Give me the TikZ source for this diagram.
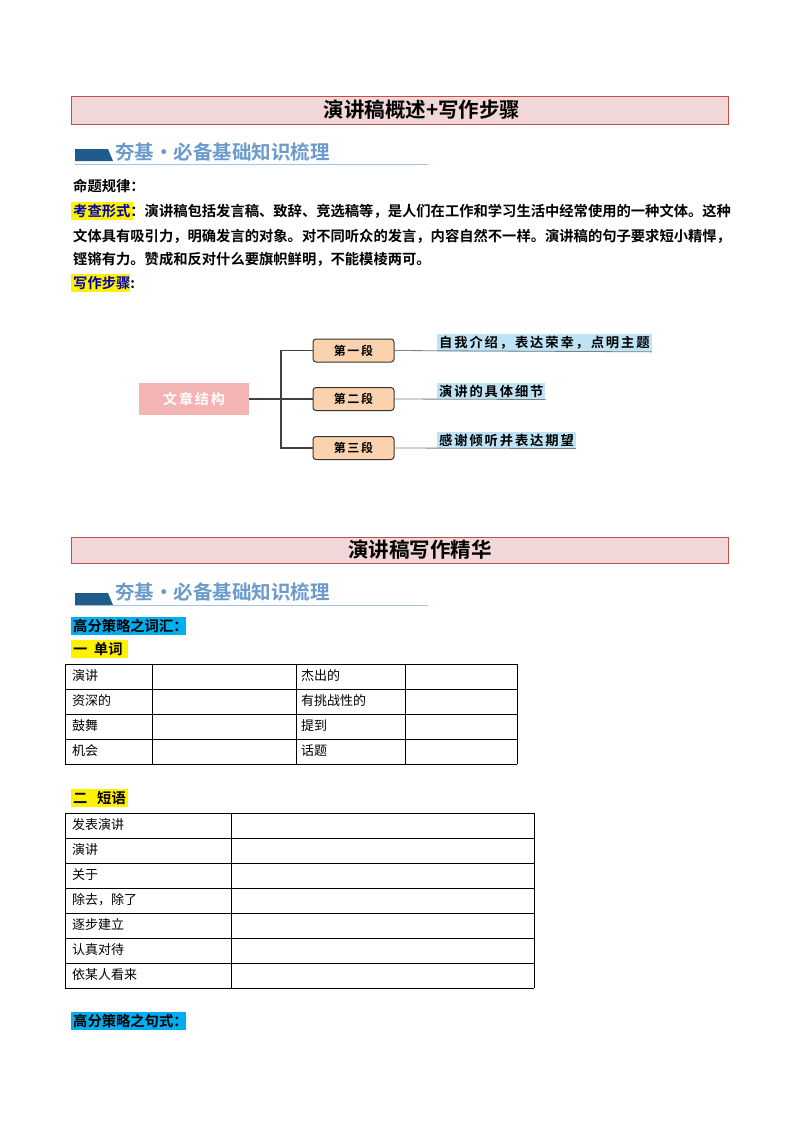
\documentclass[tikz,border=0pt]{standalone}
\usepackage{fontspec}
\setmainfont{Noto Sans CJK SC}
\newfontfamily\cjkb{Noto Sans CJK SC Bold}
\newfontfamily\cjksp[LetterSpace=14]{Noto Sans CJK SC Bold}
\definecolor{banfill}{HTML}{F2D7D9}
\definecolor{banline}{HTML}{C0504D}
\definecolor{subblue}{HTML}{1F5C8B}
\definecolor{subtxt}{HTML}{6B9ACB}
\definecolor{pinkb}{HTML}{F4B4B4}
\definecolor{peach}{HTML}{FAD3AE}
\definecolor{lblue}{HTML}{BDE3F5}
\begin{document}
\begin{tikzpicture}[x=1pt,y=-1pt,
  banner/.style={draw=banline,fill=banfill,line width=1pt},
  btitle/.style={font=\cjkb\fontsize{20.5}{20.5}\selectfont},
  body/.style={anchor=west,inner sep=0pt,font=\cjkb\fontsize{14.3}{14.3}\selectfont},
  seg/.style={draw=black!80,fill=peach,rounded corners=3pt,line width=1pt,minimum width=81pt,minimum height=23pt,font=\cjksp\fontsize{12}{12}\selectfont},
  lab/.style={fill=lblue,anchor=west,inner sep=2pt,font=\cjksp\fontsize{13.3}{13.3}\selectfont},
  cell/.style={anchor=west,inner sep=0pt,font=\fontsize{13}{13}\selectfont},
  tl/.style={draw=black,line width=0.6pt}]
\useasboundingbox (0,0) rectangle (800,1132);
\fill[white] (0,0) rectangle (800,1132);
% banner 1
\draw[banner] (71,96) rectangle (728,124);
\node[btitle] (t1) at (422,110) {演讲稿概述+写作步骤};
% sub 1
\fill[subblue] (75,149) -- (108,149) -- (113,161) -- (75,161) -- cycle;
\node[anchor=west,text=subtxt,font=\cjkb\fontsize{19.5}{19.5}\selectfont,inner sep=0pt] (s1) at (115,152) {夯基·必备基础知识梳理};
\draw[subtxt!60,line width=1pt] (75,164) -- (428,164);
\node[body] (m1) at (73,186) {命题规律：};
\fill[yellow] (71,202) rectangle (133,220);
\node[body] (m2) at (73,211) {{\color{blue!70!black}考查形式}：演讲稿包括发言稿、致辞、竞选稿等，是人们在工作和学习生活中经常使用的一种文体。这种};
\node[body] (m3) at (73,236) {文体具有吸引力，明确发言的对象。对不同听众的发言，内容自然不一样。演讲稿的句子要求短小精悍，};
\node[body] (m4) at (73,259) {铿锵有力。赞成和反对什么要旗帜鲜明，不能模棱两可。};
\fill[yellow] (71,274) rectangle (130,292);
\node[body] (m5) at (73,283) {{\color{blue!70!black}写作步骤}:};
% diagram
\node[fill=pinkb,text=white,minimum width=110pt,minimum height=32pt,font=\cjksp\fontsize{14}{14}\selectfont] (root) at (194,399) {文章结构};
\node[seg] (a) at (353.5,350.5) {第一段};
\node[seg] (b) at (353.5,399) {第二段};
\node[seg] (c) at (353.5,448) {第三段};
\coordinate (j) at (281,399);
\draw[black!75,line width=1.6pt] (root.east) -- (j);
\draw[black!75,line width=1.6pt] (a.west) -| (j) |- (c.west);
\draw[black!75,line width=1.6pt] (j) -- (b.west);
\node[lab] (la) at (437,343) {自我介绍，表达荣幸，点明主题};
\node[lab] (lb) at (437,391) {演讲的具体细节};
\node[lab] (lc) at (437,440) {感谢倾听并表达期望};
\draw[black!50,line width=0.8pt] (a.east) -- (la.south east);
\draw[black!50,line width=0.8pt] (b.east) -- (lb.south east);
\draw[black!50,line width=0.8pt] (c.east) -- (lc.south east);
% banner 2
\draw[banner] (71,537) rectangle (728,563);
\node[btitle] (t2) at (420,550) {演讲稿写作精华};
\fill[subblue] (75,593) -- (108,593) -- (113,605) -- (75,605) -- cycle;
\node[anchor=west,text=subtxt,font=\cjkb\fontsize{19.5}{19.5}\selectfont,inner sep=0pt] (s2) at (115,592) {夯基·必备基础知识梳理};
\draw[subtxt!60,line width=1pt] (75,605) -- (428,605);
\fill[cyan] (71,617) rectangle (186,635);
\node[body] (h1) at (73,626) {高分策略之词汇：};
\fill[yellow] (71,640) rectangle (128,658);
\node[body] (h2) at (73,649) {一\ \ 单词};
% table 1
\foreach \y in {664,689,714,739,764} \draw[tl] (65,\y) -- (517,\y);
\foreach \x in {65,152,296,405,517} \draw[tl] (\x,664) -- (\x,764);
\node[cell] (w1) at (72,676) {演讲};
\node[cell] (w2) at (72,701) {资深的};
\node[cell] (w3) at (72,726) {鼓舞};
\node[cell] (w4) at (72,751) {机会};
\node[cell] (w5) at (301,676) {杰出的};
\node[cell] (w6) at (301,701) {有挑战性的};
\node[cell] (w7) at (301,726) {提到};
\node[cell] (w8) at (301,751) {话题};
\fill[yellow] (71,789) rectangle (128,807);
\node[body] (h3) at (73,798) {二\ \ \ 短语};
% table 2
\foreach \y in {813,838,863,888,913,938,963,988} \draw[tl] (65,\y) -- (534,\y);
\foreach \x in {65,231,534} \draw[tl] (\x,813) -- (\x,988);
\node[cell] (p1) at (72,825) {发表演讲};
\node[cell] (p2) at (72,850) {演讲};
\node[cell] (p3) at (72,875) {关于};
\node[cell] (p4) at (72,900) {除去，除了};
\node[cell] (p5) at (72,925) {逐步建立};
\node[cell] (p6) at (72,950) {认真对待};
\node[cell] (p7) at (72,975) {依某人看来};
\fill[cyan] (71,1012) rectangle (186,1030);
\node[body] (h4) at (73,1021) {高分策略之句式：};
\end{tikzpicture}
\end{document}
